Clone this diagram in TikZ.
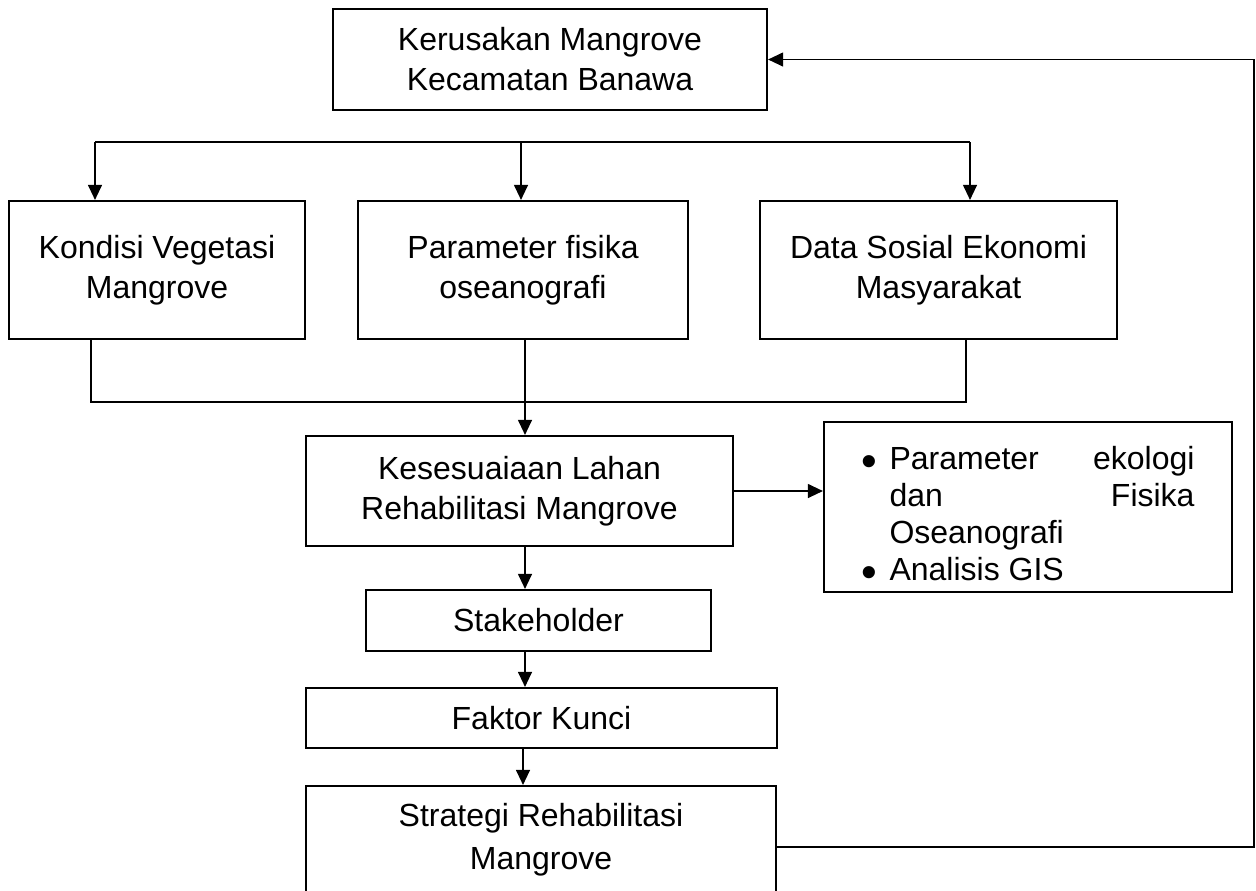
\documentclass[tikz,border=0pt]{standalone}
\usepackage{fontspec}
\setmainfont{Liberation Sans}
\usepackage{graphicx}
\usetikzlibrary{arrows.meta}
\newcommand{\mybul}{\raisebox{-3.5pt}{\scalebox{1.4}{\textbullet}}}
\begin{document}
\begin{tikzpicture}[x=0.5pt,y=-0.5pt,
  box/.style={draw, line width=1.1pt, align=center, inner sep=0pt,
    font=\fontsize{16pt}{20pt}\selectfont},
  conn/.style={line width=0.6pt},
  arr/.style={conn, -{Triangle[length=7.5pt,width=7pt]}}]
\useasboundingbox (0,0) rectangle (1256,890);
\clip (0,0) rectangle (1256,890);

\node[box, minimum width=217pt, minimum height=50.5pt] (top) at (550,59.5) {Kerusakan Mangrove\\Kecamatan Banawa};
\node[box, minimum width=148pt, minimum height=69pt] (kondisi) at (157,270) {Kondisi Vegetasi\\Mangrove};
\node[box, minimum width=165pt, minimum height=69pt] (param) at (523,270) {Parameter fisika\\oseanografi};
\node[box, minimum width=178.5pt, minimum height=69pt] (data) at (938.5,270) {Data Sosial Ekonomi\\Masyarakat};
\node[box, minimum width=213.5pt, minimum height=55pt] (kes) at (519.5,491) {Kesesuaiaan Lahan\\Rehabilitasi Mangrove};
\node[box, minimum width=204pt, minimum height=84pt, align=left,
  font=\fontsize{16pt}{18.5pt}\selectfont] (bullet) at (1028,507) {%
  \begin{tabular}{@{}p{14pt}@{}l@{}}
  \rule{0pt}{24pt}\mybul & \makebox[152.5pt][s]{Parameter\hfill ekologi}\\
  & \makebox[152.5pt][s]{dan\hfill Fisika}\\
  & Oseanografi\\
  \mybul & Analisis GIS
  \end{tabular}};
\node[box, minimum width=172.5pt, minimum height=30.5pt] (stake) at (538.5,620.5) {Stakeholder};
\node[box, minimum width=235.5pt, minimum height=30pt] (faktor) at (541.5,718) {Faktor Kunci};
\node[box, minimum width=235pt, minimum height=53.5pt,
  font=\fontsize{16pt}{21.5pt}\selectfont] (strategi) at (541,839.5) {Strategi Rehabilitasi\\Mangrove};

% distribution from top
\coordinate (d1) at (95,142);
\coordinate (d2) at (521,142);
\coordinate (d3) at (970,142);
\draw[conn] (d1) -- (d3);
\draw[arr] (d1) -- (d1 |- kondisi.north);
\draw[arr] (d2) -- (d2 |- param.north);
\draw[arr] (d3) -- (d3 |- data.north);

% merge into suitability
\coordinate (m1) at (91,402);
\coordinate (m2) at (525,402);
\coordinate (m3) at (966,402);
\draw[conn] (m1 |- kondisi.south) -- (m1) -- (m3) -- (m3 |- data.south);
\draw[arr] (m2 |- param.south) -- (m2 |- kes.north);

% chain
\draw[arr] (kes.east) -- (kes.east -| bullet.west);
\draw[arr] (kes.south -| m2) -- (stake.north -| m2);
\draw[arr] (stake.south -| m2) -- (faktor.north -| m2);
\coordinate (c4) at (523,760);
\draw[arr] (faktor.south -| c4) -- (strategi.north -| c4);

% feedback
\coordinate (fb) at (1254,847);
\draw[arr] (strategi.east |- fb) -- (fb) -- (fb |- top.east) -- (top.east);
\end{tikzpicture}
\end{document}
